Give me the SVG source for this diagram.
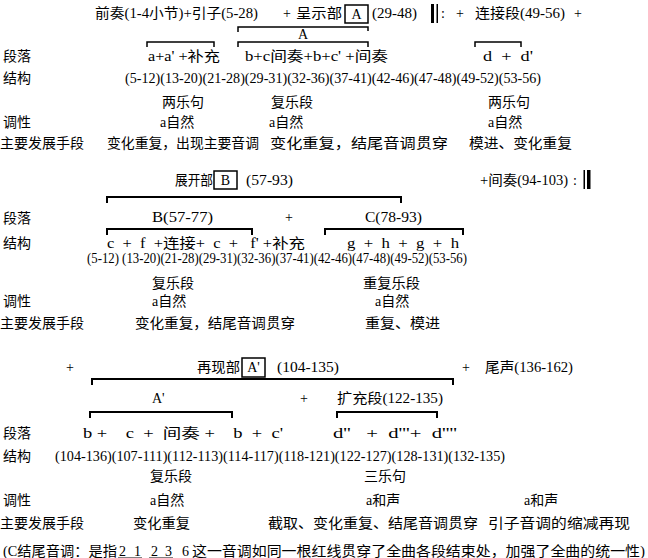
<svg xmlns="http://www.w3.org/2000/svg" width="648" height="558" viewBox="0 0 648 558">
<style>
text { font-family: "Liberation Serif", "Noto Sans CJK SC", serif; font-size: 14px; fill: #000; }
.c { text-anchor: middle; }
.br { fill: none; stroke: #000; stroke-width: 1.5; }
.bb { fill: none; stroke: #000; stroke-width: 2; }
.box { fill: none; stroke: #000; stroke-width: 1.5; }
</style>
<rect width="648" height="558" fill="#fff"/>
<g id="connectors">
  <path class="br" d="M238,32 V27 H368 V31"/>
  <path class="br" d="M147,47 V42 H214 V47"/>
  <path class="br" d="M238,47 V42 H368 V47"/>
  <path class="br" d="M475,47 V42 H521 V47"/>
  <path class="bb" d="M107,203 V197 H401 V203"/>
  <path class="bb" d="M107,235 V229 H252 V235"/>
  <path class="bb" d="M325,235 V229 H463 V235"/>
  <path class="bb" d="M92,385 V379 H453 V385"/>
  <path class="bb" d="M90,418 V412 H232 V418"/>
  <path class="bb" d="M337,418 V412 H437 V418"/>
</g>
<g id="exposition">
  <text x="95" y="18" textLength="163" lengthAdjust="spacingAndGlyphs">前奏(1-4小节)+引子(5-28)</text>
  <text x="283" y="18">+</text>
  <text x="296" y="18" textLength="46" lengthAdjust="spacingAndGlyphs">呈示部</text>
  <g id="boxA"><rect class="box" x="345" y="5" width="23" height="18"/><text class="c" x="356.5" y="19">A</text></g>
  <text x="372" y="18" textLength="45" lengthAdjust="spacingAndGlyphs">(29-48)</text>
  <rect x="431" y="4" width="3" height="19"/>
  <rect x="436.5" y="4" width="1.5" height="19"/>
  <text x="441" y="18">:</text>
  <text x="456" y="18">+</text>
  <text x="475" y="18" textLength="90" lengthAdjust="spacingAndGlyphs">连接段(49-56)</text>
  <text x="574" y="18">+</text>
  <text class="c" x="303" y="39">A</text>
  <text x="3" y="61">段落</text>
  <text x="148" y="61" textLength="72" lengthAdjust="spacingAndGlyphs" xml:space="preserve">a+a' +补充</text>
  <text x="245" y="61" textLength="143" lengthAdjust="spacingAndGlyphs" xml:space="preserve">b+c间奏+b+c' +间奏</text>
  <text x="483" y="61" textLength="50" lengthAdjust="spacingAndGlyphs" xml:space="preserve">d  +  d'</text>
  <text x="3" y="83">结构</text>
  <text x="125" y="83" textLength="416" lengthAdjust="spacingAndGlyphs">(5-12)(13-20)(21-28)(29-31)(32-36)(37-41)(42-46)(47-48)(49-52)(53-56)</text>
  <text x="162" y="107">两乐句</text>
  <text x="271" y="107">复乐段</text>
  <text x="488" y="107">两乐句</text>
  <text x="3" y="127">调性</text>
  <text x="160" y="127">a自然</text>
  <text x="269" y="127">a自然</text>
  <text x="488" y="127">a自然</text>
  <text x="0" y="148">主要发展手段</text>
  <text x="107" y="148" textLength="152" lengthAdjust="spacingAndGlyphs">变化重复，出现主要音调</text>
  <text x="270" y="148" textLength="178" lengthAdjust="spacingAndGlyphs">变化重复，结尾音调贯穿</text>
  <text x="469" y="148" textLength="103" lengthAdjust="spacingAndGlyphs">模进、变化重复</text>
</g>
<g id="development">
  <text x="175" y="185" textLength="38" lengthAdjust="spacingAndGlyphs">展开部</text>
  <g id="boxB"><rect class="box" x="214" y="171" width="23" height="18"/><text class="c" x="225.5" y="185">B</text></g>
  <text x="246" y="185" textLength="47" lengthAdjust="spacingAndGlyphs">(57-93)</text>
  <text x="480" y="185" textLength="88" lengthAdjust="spacingAndGlyphs">+间奏(94-103)</text>
  <text x="573" y="185">:</text>
  <rect x="583.5" y="170" width="1.5" height="19"/>
  <rect x="587" y="170" width="3.5" height="19"/>
  <text x="3" y="223">段落</text>
  <text x="152" y="222" textLength="61" lengthAdjust="spacingAndGlyphs">B(57-77)</text>
  <text x="285" y="222">+</text>
  <text x="365" y="222" textLength="57" lengthAdjust="spacingAndGlyphs">C(78-93)</text>
  <text x="3" y="248">结构</text>
  <text x="107" y="248" textLength="198" lengthAdjust="spacingAndGlyphs" xml:space="preserve">c  +  f  +连接+  c  +   f' +补充</text>
  <text x="347" y="248" textLength="112" lengthAdjust="spacingAndGlyphs" xml:space="preserve">g  +  h  +  g  +  h</text>
  <text x="87" y="263" textLength="380" lengthAdjust="spacingAndGlyphs">(5-12) (13-20)(21-28)(29-31)(32-36)(37-41)(42-46)(47-48)(49-52)(53-56)</text>
  <text x="152" y="288">复乐段</text>
  <text x="363" y="288" textLength="57" lengthAdjust="spacingAndGlyphs">重复乐段</text>
  <text x="3" y="306">调性</text>
  <text x="152" y="306">a自然</text>
  <text x="375" y="306">a自然</text>
  <text x="0" y="328">主要发展手段</text>
  <text x="135" y="328" textLength="160" lengthAdjust="spacingAndGlyphs">变化重复，结尾音调贯穿</text>
  <text x="365" y="328" textLength="75" lengthAdjust="spacingAndGlyphs">重复、模进</text>
</g>
<g id="recapitulation">
  <text x="66" y="372">+</text>
  <text x="197" y="372" textLength="43" lengthAdjust="spacingAndGlyphs">再现部</text>
  <g id="boxA2"><rect class="box" x="242" y="358" width="23" height="19"/><text class="c" x="253.5" y="372">A'</text></g>
  <text x="277" y="372" textLength="62" lengthAdjust="spacingAndGlyphs">(104-135)</text>
  <text x="462" y="372">+</text>
  <text x="485" y="372" textLength="88" lengthAdjust="spacingAndGlyphs">尾声(136-162)</text>
  <text x="152" y="403">A'</text>
  <text x="300" y="403">+</text>
  <text x="337" y="403" textLength="106" lengthAdjust="spacingAndGlyphs">扩充段(122-135)</text>
  <text x="3" y="438">段落</text>
  <text x="83" y="438" textLength="200" lengthAdjust="spacingAndGlyphs" xml:space="preserve">b +    c  +  间奏 +    b  +  c'</text>
  <text x="333" y="438" textLength="124" lengthAdjust="spacingAndGlyphs" xml:space="preserve">d''   +  d'''+  d''''</text>
  <text x="3" y="461">结构</text>
  <text x="55" y="461" textLength="450" lengthAdjust="spacingAndGlyphs">(104-136)(107-111)(112-113)(114-117)(118-121)(122-127)(128-131)(132-135)</text>
  <text x="150" y="481">复乐段</text>
  <text x="364" y="481">三乐句</text>
  <text x="3" y="505">调性</text>
  <text x="150" y="505">a自然</text>
  <text x="366" y="505">a和声</text>
  <text x="524" y="505">a和声</text>
  <text x="0" y="528">主要发展手段</text>
  <text x="133" y="528" textLength="57" lengthAdjust="spacingAndGlyphs">变化重复</text>
  <text x="268" y="528" textLength="210" lengthAdjust="spacingAndGlyphs">截取、变化重复、结尾音调贯穿</text>
  <text x="488" y="528" textLength="142" lengthAdjust="spacingAndGlyphs">引子音调的缩减再现</text>
</g>
<g id="footnote">
  <text x="3" y="556" textLength="114" lengthAdjust="spacingAndGlyphs">(C结尾音调：是指</text>
  <text x="119" y="556">2</text>
  <text x="134" y="556">1</text>
  <text x="151" y="556">2</text>
  <text x="165" y="556">3</text>
  <text x="182" y="556">6</text>
  <text x="192" y="556" textLength="453" lengthAdjust="spacingAndGlyphs">这一音调如同一根红线贯穿了全曲各段结束处，加强了全曲的统一性)</text>
  <line x1="118" y1="558" x2="142" y2="558" stroke="#000" stroke-width="1"/>
  <line x1="149" y1="558" x2="173" y2="558" stroke="#000" stroke-width="1"/>
</g>
</svg>
